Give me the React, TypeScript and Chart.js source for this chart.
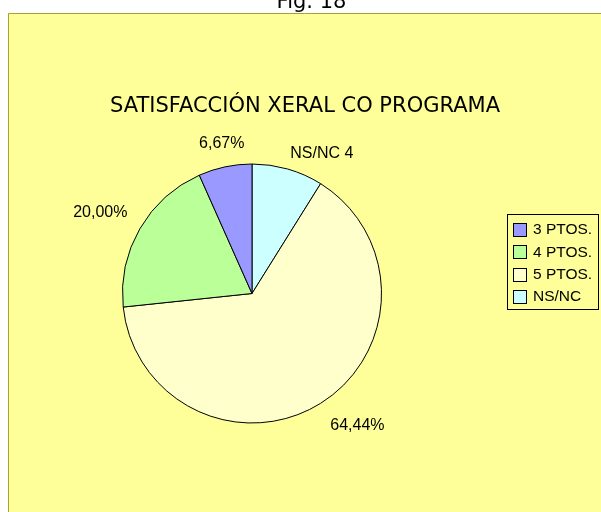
import React, { useEffect, useRef } from "react";
import { Chart, registerables } from "chart.js";

Chart.register(...registerables);

// ---- data ----
const categories = ["NS/NC", "5 PTOS.", "4 PTOS.", "3 PTOS."];
const counts = [4, 29, 9, 3];
const labelModes = ["nameValue", "percent", "percent", "percent"];
const figureCaption = "Fig. 18";
const chartTitle = "SATISFACCIÓN XERAL CO PROGRAMA";

// ---- styles ----
const sliceColors = ["#CCFFFF", "#FFFFCC", "#BBFF99", "#9999FF"];
const labelAngleOffsetsDeg = [10.6, -6.6, -1.9, 0.6];
const labelRadialOffsets = [26.5, 39.5, 42.5, 23.5];

const W = 601;
const H = 512;

function formatLabel(i: number): string {
  const total = counts.reduce((a, b) => a + b, 0);
  if (labelModes[i] === "nameValue") return `${categories[i]} ${counts[i]}`;
  return ((counts[i] / total) * 100).toFixed(2).replace(".", ",") + "%";
}

const backgroundPlugin = {
  id: "bgFrame",
  beforeDraw(chart: any) {
    const ctx = chart.ctx;
    ctx.save();
    ctx.fillStyle = "#FFFFFF";
    ctx.fillRect(0, 0, W, H);
    ctx.fillStyle = "#FFFF99";
    ctx.fillRect(8, 13, W - 8, H - 13);
    ctx.strokeStyle = "#A8A032";
    ctx.lineWidth = 1;
    ctx.beginPath();
    ctx.moveTo(8.5, H);
    ctx.lineTo(8.5, 13.5);
    ctx.lineTo(W, 13.5);
    ctx.stroke();
    ctx.fillStyle = "#000000";
    ctx.textAlign = "center";
    ctx.textBaseline = "alphabetic";
    ctx.font = "21px 'DejaVu Sans'";
    ctx.fillText(figureCaption, 311.5, 8);
    ctx.fillText(chartTitle, 305, 112);
    ctx.restore();
  },
};

const sliceLabelPlugin = {
  id: "sliceLabels",
  afterDatasetsDraw(chart: any) {
    const ctx = chart.ctx;
    const meta = chart.getDatasetMeta(0);
    ctx.save();
    ctx.fillStyle = "#000000";
    ctx.font = "16px 'Liberation Sans'";
    ctx.textAlign = "center";
    ctx.textBaseline = "middle";
    meta.data.forEach((arc: any, i: number) => {
      const p = arc.getProps(["x", "y", "startAngle", "endAngle", "outerRadius"], true);
      const mid = (p.startAngle + p.endAngle) / 2 + (labelAngleOffsetsDeg[i] * Math.PI) / 180;
      const r = p.outerRadius + labelRadialOffsets[i];
      ctx.fillText(formatLabel(i), p.x + Math.cos(mid) * r, p.y + Math.sin(mid) * r);
    });
    ctx.restore();
  },
};

const legendPlugin = {
  id: "boxLegend",
  afterDraw(chart: any) {
    const ctx = chart.ctx;
    const left = 507.5;
    const top = 214.5;
    const right = 598.5;
    const bottom = 309.5;
    ctx.save();
    ctx.strokeStyle = "#000000";
    ctx.lineWidth = 1;
    ctx.strokeRect(left, top, right - left, bottom - top);
    const order = categories.map((_, i) => i).reverse();
    const step = 22.3;
    const firstCenter = 229.5;
    ctx.font = "15.5px 'Liberation Sans'";
    ctx.textAlign = "left";
    ctx.textBaseline = "middle";
    order.forEach((idx, k) => {
      const cy = firstCenter + k * step;
      const sy = Math.round(cy - 6.5) + 0.5;
      ctx.fillStyle = sliceColors[idx];
      ctx.fillRect(513.5, sy, 13, 13);
      ctx.strokeStyle = "#000000";
      ctx.strokeRect(513.5, sy, 13, 13);
      ctx.fillStyle = "#000000";
      ctx.fillText(categories[idx], 533, cy + 0.5);
    });
    ctx.restore();
  },
};

export default function App() {
  const canvasRef = useRef<HTMLCanvasElement | null>(null);

  useEffect(() => {
    if (!canvasRef.current) return;
    const chart = new Chart(canvasRef.current, {
      type: "pie",
      data: {
        labels: categories,
        datasets: [
          {
            data: counts,
            backgroundColor: sliceColors,
            borderColor: "#000000",
            borderWidth: 1,
            hoverOffset: 0,
          },
        ],
      },
      options: {
        responsive: false,
        animation: false,
        devicePixelRatio: 1,
        layout: {
          padding: { left: 122, right: 219, top: 163.5, bottom: 88.5 },
        },
        plugins: {
          legend: { display: false },
          title: { display: false },
          tooltip: { enabled: false },
        },
        events: [],
      },
      plugins: [backgroundPlugin, sliceLabelPlugin, legendPlugin],
    });
    return () => chart.destroy();
  }, []);

  return (
    <div style={{ position: "fixed", left: 0, top: 0, width: W, height: H, overflow: "hidden" }}>
      <canvas ref={canvasRef} width={W} height={H} style={{ display: "block", width: W, height: H }} />
    </div>
  );
}
